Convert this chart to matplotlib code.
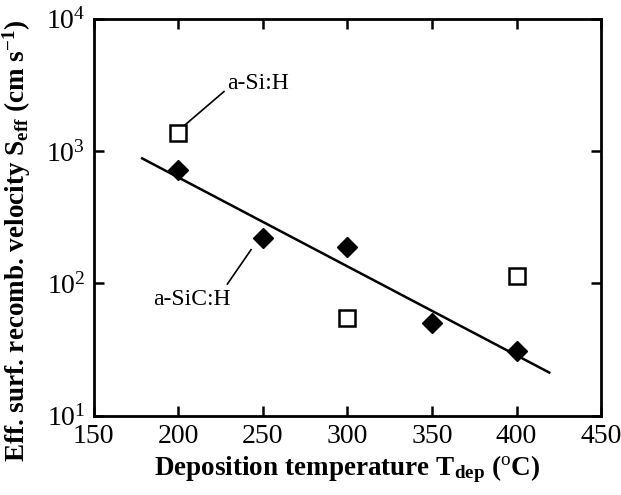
import numpy as np
import matplotlib
matplotlib.use('Agg')
import matplotlib.pyplot as plt

plt.rcParams['font.family'] = ['Liberation Serif', 'DejaVu Serif']
plt.rcParams['mathtext.fontset'] = 'custom'
plt.rcParams['mathtext.rm'] = 'Liberation Serif'
plt.rcParams['mathtext.it'] = 'Liberation Serif:italic'
plt.rcParams['mathtext.bf'] = 'Liberation Serif:bold'

# a-Si:H passivation (open squares)
sih_temp = [200, 300, 400]
sih_s = [1370, 55, 113]

# a-SiC:H passivation (filled diamonds)
sic_temp = [200, 250, 300, 350, 400]
sic_s = [720, 222, 190, 50, 31]

# fitted trend line for a-SiC:H
fit_temp = [178, 420]
fit_s = [890, 21]

x_ticks = [150, 200, 250, 300, 350, 400, 450]
y_ticks = [10, 100, 1000, 10000]
y_tick_labels = [r'$10^1$', r'$10^2$', r'$10^3$', r'$10^4$']

fig = plt.figure(figsize=(6.21, 4.95), dpi=100)
ax = fig.add_axes([0.151, 0.160, 0.817, 0.802])

ax.plot(fit_temp, fit_s, color='black', lw=1.8, solid_capstyle='butt')
ax.plot(sic_temp, sic_s, linestyle='none', marker='D', markersize=10,
        color='black')
ax.plot(sih_temp, sih_s, linestyle='none', marker='s', markersize=11,
        markerfacecolor='white', markeredgecolor='black', markeredgewidth=1.8)

# labels with leader lines
ax.plot([204, 227], [1580, 2820], color='black', lw=1.2)
ax.text(229, 3230, 'a-Si:H', fontsize=17, va='center', ha='left')
ax.plot([243, 229], [180, 99], color='black', lw=1.2)
ax.text(208, 76, 'a-SiC:H', fontsize=17, va='center', ha='center')

ax.set_yscale('log')
ax.set_xlim(150, 450)
ax.set_ylim(10, 10000)
ax.set_xticks(x_ticks)
ax.set_yticks(y_ticks)
ax.set_yticklabels(y_tick_labels)
ax.yaxis.set_minor_locator(matplotlib.ticker.NullLocator())
ax.tick_params(which='major', direction='in', length=7, width=1.8,
               top=True, right=True, labelsize=20, pad=6)
for s in ax.spines.values():
    s.set_linewidth(2.0)

ax.set_xlabel(r'Deposition temperature T$_{\mathbf{dep}}$ ($^{\mathrm{o}}$C)',
              fontsize=19.5, fontweight='bold', labelpad=3)
ax.set_ylabel(r'Eff. surf. recomb. velocity S$_{\mathbf{eff}}$ (cm s$^{\mathbf{-1}}$)',
              fontsize=19.5, fontweight='bold')
ax.yaxis.set_label_coords(-0.12, 0.44)

fig.savefig('out.png', dpi=100)
